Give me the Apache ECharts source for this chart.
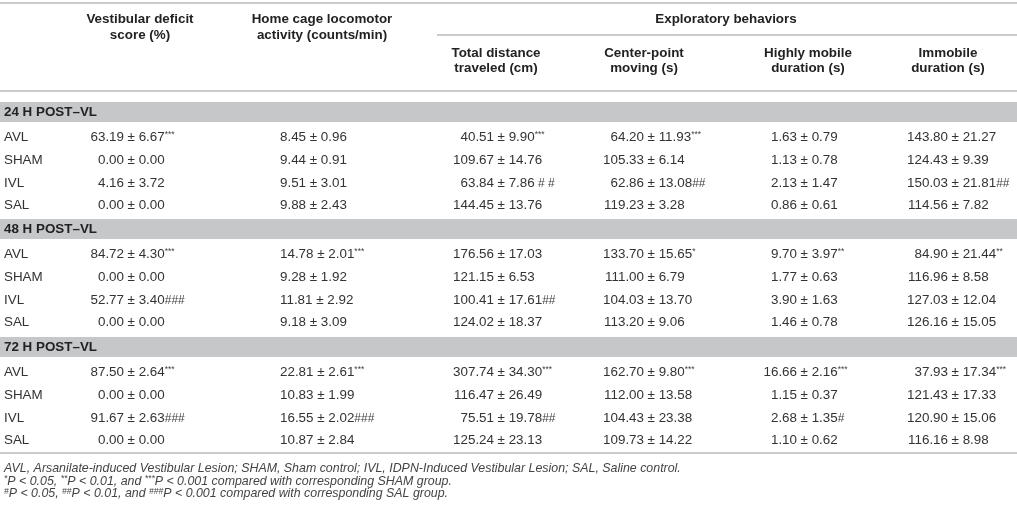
<!DOCTYPE html>
<html>
<head>
<meta charset="utf-8">
<title>vestibular-table</title>
<script src="https://cdn.jsdelivr.net/npm/echarts@6/dist/echarts.min.js"></script>
<style>html,body{margin:0;padding:0;background:#fff}</style>
</head>
<body>
<div id="main" style="width:1017px;height:519px"></div>
<script>
// table content
var groups = ['AVL', 'SHAM', 'IVL', 'SAL'];
var sections = ['24 H POST–VL', '48 H POST–VL', '72 H POST–VL'];
var topHeaders = [['Vestibular deficit', 'score (%)'], ['Home cage locomotor', 'activity (counts/min)']];
var groupHeader = 'Exploratory behaviors';
var subHeaders = [['Total distance', 'traveled (cm)'], ['Center-point', 'moving (s)'], ['Highly mobile', 'duration (s)'], ['Immobile', 'duration (s)']];

var mean24 = [[63.19, 8.45, 40.51, 64.20, 1.63, 143.80],
              [0.00, 9.44, 109.67, 105.33, 1.13, 124.43],
              [4.16, 9.51, 63.84, 62.86, 2.13, 150.03],
              [0.00, 9.88, 144.45, 119.23, 0.86, 114.56]];
var sd24 = [[6.67, 0.96, 9.90, 11.93, 0.79, 21.27],
            [0.00, 0.91, 14.76, 6.14, 0.78, 9.39],
            [3.72, 3.01, 7.86, 13.08, 1.47, 21.81],
            [0.00, 2.43, 13.76, 3.28, 0.61, 7.82]];
var mark24 = [['***', '', '***', '***', '', ''],
              ['', '', '', '', '', ''],
              ['', '', ' # #', '##', '', '##'],
              ['', '', '', '', '', '']];

var mean48 = [[84.72, 14.78, 176.56, 133.70, 9.70, 84.90],
              [0.00, 9.28, 121.15, 111.00, 1.77, 116.96],
              [52.77, 11.81, 100.41, 104.03, 3.90, 127.03],
              [0.00, 9.18, 124.02, 113.20, 1.46, 126.16]];
var sd48 = [[4.30, 2.01, 17.03, 15.65, 3.97, 21.44],
            [0.00, 1.92, 6.53, 6.79, 0.63, 8.58],
            [3.40, 2.92, 17.61, 13.70, 1.63, 12.04],
            [0.00, 3.09, 18.37, 9.06, 0.78, 15.05]];
var mark48 = [['***', '***', '', '*', '**', '**'],
              ['', '', '', '', '', ''],
              ['###', '', '##', '', '', ''],
              ['', '', '', '', '', '']];

var mean72 = [[87.50, 22.81, 307.74, 162.70, 16.66, 37.93],
              [0.00, 10.83, 116.47, 112.00, 1.15, 121.43],
              [91.67, 16.55, 75.51, 104.43, 2.68, 120.90],
              [0.00, 10.87, 125.24, 109.73, 1.10, 116.16]];
var sd72 = [[2.64, 2.61, 34.30, 9.80, 2.16, 17.34],
            [0.00, 1.99, 26.49, 13.58, 0.37, 17.33],
            [2.63, 2.02, 19.78, 23.38, 1.35, 15.06],
            [0.00, 2.84, 23.13, 14.22, 0.62, 8.98]];
var mark72 = [['***', '***', '***', '***', '***', '***'],
              ['', '', '', '', '', ''],
              ['###', '###', '##', '', '#', ''],
              ['', '', '', '', '', '']];

var notes = [
  'AVL, Arsanilate-induced Vestibular Lesion; SHAM, Sham control; IVL, IDPN-Induced Vestibular Lesion; SAL, Saline control.',
  '{s|*}P < 0.05, {s|**}P < 0.01, and {s|***}P < 0.001 compared with corresponding SHAM group.',
  '{s|#}P < 0.05, {s|##}P < 0.01, and {s|###}P < 0.001 compared with corresponding SAL group.'
];

// layout
var W = 1017, H = 519;
var FONT = 'Liberation Sans, Arial, Helvetica, sans-serif';
var colAnchor = [124, 280, 494, 644, 797, 948];
var colAlign = ['dec', 'left', 'dec', 'dec', 'dec', 'dec'];
var topHeadX = [140, 322];
var subHeadX = [496, 644, 808, 948];
var bandTop = [102, 219, 337];
var lineColor = '#b8b8b8';
var bandColor = '#c6c7c9';

var styles = {
  head: {fontFamily: FONT, fontSize: 13.4, fontWeight: 'bold', fill: '#222'},
  cell: {fontFamily: FONT, fontSize: 13.4, fill: '#333'},
  note: {fontFamily: FONT, fontSize: 12.4, fontStyle: 'italic', fill: '#444'}
};
var rich = {
  s: {fontFamily: FONT, fontSize: 8.5, fill: '#444', verticalAlign: 'top', lineHeight: 14},
  h: {fontFamily: FONT, fontSize: 12, fill: '#444', verticalAlign: 'bottom', lineHeight: 14},
  ns: {fontFamily: FONT, fontSize: 8.5, fontStyle: 'italic', fill: '#444', verticalAlign: 'top', lineHeight: 13}
};

var items = [];
function addText(x, y, text, st, align) {
  items.push({kind: 'text', v: [x, y, x, y], text: text, st: st, align: align || 'left'});
}
function addLine(x1, y, x2) {
  items.push({kind: 'line', v: [x1, y, x2, y]});
}
function addBand(y1, y2) {
  items.push({kind: 'rect', v: [0, y1, W, y2]});
}

// header
addLine(0, 3, W);
addLine(437, 35, W);
addLine(0, 91, W);
addLine(0, 453, W);
topHeaders.forEach(function (h, i) {
  addText(topHeadX[i], 19.5, h[0], 'head', 'center');
  addText(topHeadX[i], 35, h[1], 'head', 'center');
});
addText(726, 19.5, groupHeader, 'head', 'center');
subHeaders.forEach(function (h, i) {
  addText(subHeadX[i], 53, h[0], 'head', 'center');
  addText(subHeadX[i], 68.5, h[1], 'head', 'center');
});

// body
var means = [mean24, mean48, mean72];
var sds = [sd24, sd48, sd72];
var marks = [mark24, mark48, mark72];
sections.forEach(function (name, s) {
  var top = bandTop[s];
  addBand(top, top + 20);
  addText(4, top + 10.5, name, 'head');
  groups.forEach(function (g, r) {
    var y = top + 35.5 + r * 22.7;
    addText(4, y, g, 'cell');
    for (var c = 0; c < colAnchor.length; c++) {
      var m = means[s][r][c].toFixed(2);
      var mk = marks[s][r][c];
      var tail = '± ' + sds[s][r][c].toFixed(2);
      if (mk) tail += (mk.indexOf('*') >= 0 ? '{s|' : '{h|') + mk + '}';
      if (colAlign[c] === 'left') {
        addText(colAnchor[c], y, m + ' ' + tail, 'cell');
      } else {
        addText(colAnchor[c], y, m, 'cell', 'right');
        addText(colAnchor[c] + 3.6, y, tail, 'cell');
      }
    }
  });
});

// footnotes
addText(4, 469, notes[0], 'note');
addText(4, 481.5, notes[1].replace(/\{s\|/g, '{ns|'), 'note');
addText(4, 494, notes[2].replace(/\{s\|/g, '{ns|'), 'note');

function renderItem(params, api) {
  var it = items[params.dataIndex];
  var p1 = api.coord([api.value(0), api.value(1)]);
  var p2 = api.coord([api.value(2), api.value(3)]);
  if (it.kind === 'line') {
    return {type: 'line', silent: true,
      shape: {x1: p1[0], y1: p1[1], x2: p2[0], y2: p2[1]},
      style: {stroke: lineColor, lineWidth: 1.5}};
  }
  if (it.kind === 'rect') {
    return {type: 'rect', silent: true,
      shape: {x: p1[0], y: p1[1], width: p2[0] - p1[0], height: p2[1] - p1[1]},
      style: {fill: bandColor}};
  }
  var st = styles[it.st];
  return {type: 'text', silent: true,
    style: {
      x: p1[0], y: p1[1], text: it.text,
      fontFamily: st.fontFamily, fontSize: st.fontSize,
      fontWeight: st.fontWeight || 'normal', fontStyle: st.fontStyle || 'normal',
      fill: st.fill, align: it.align, verticalAlign: 'middle',
      lineHeight: 14, rich: rich
    }};
}

var chart = echarts.init(document.getElementById('main'));
chart.setOption({
  animation: false,
  grid: {left: 0, right: 0, top: 0, bottom: 0},
  xAxis: {type: 'value', min: 0, max: W, show: false},
  yAxis: {type: 'value', min: 0, max: H, inverse: true, show: false},
  series: [{
    type: 'custom',
    renderItem: renderItem,
    clip: false,
    data: items.map(function (it) { return it.v; })
  }]
});
</script>
</body>
</html>
